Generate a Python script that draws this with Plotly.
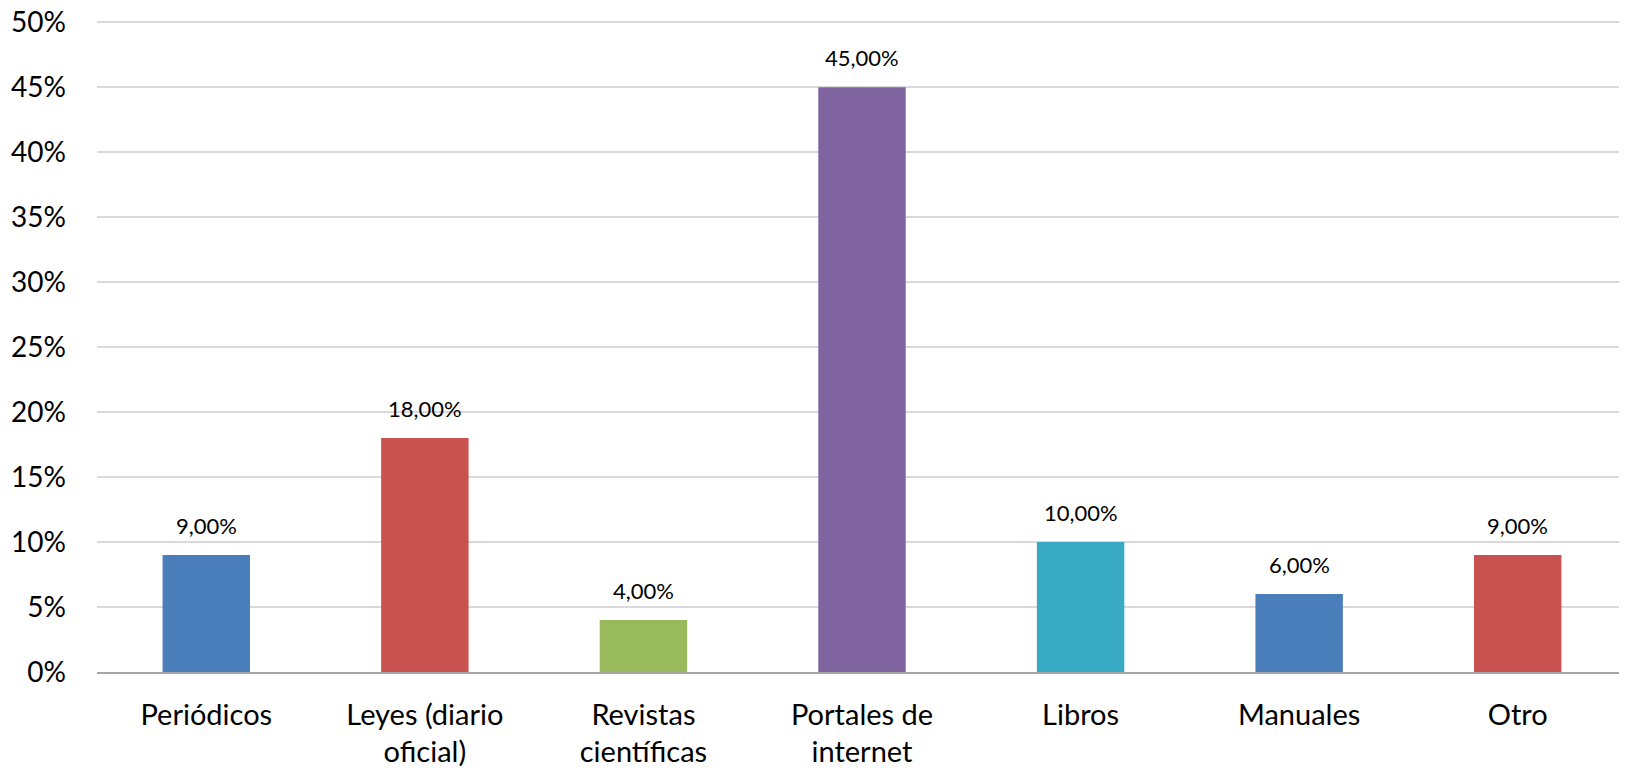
import plotly.graph_objects as go

categories = ["Periódicos", "Leyes (diario<br>oficial)", "Revistas<br>científicas",
              "Portales de<br>internet", "Libros", "Manuales", "Otro"]
values = [9, 18, 4, 45, 10, 6, 9]
colors = ["#4A7EBB", "#C9514F", "#98B95C", "#8064A0", "#38AAC4", "#4A7EBB", "#C9514F"]
tick_vals = [0, 5, 10, 15, 20, 25, 30, 35, 40, 45, 50]
tick_text = [f"{v}%" for v in tick_vals]

font_family = "Lato, 'Open Sans', sans-serif"

fig = go.Figure(go.Bar(
    x=categories, y=values, marker=dict(color=colors, line=dict(width=0)),
))

for c, v in zip(categories, values):
    fig.add_annotation(x=c, y=v, xref="x", yref="y", text=f"{v:.2f}%".replace(".", ","),
                       showarrow=False, yanchor="bottom", yshift=14,
                       font=dict(size=22, color="#000000", family=font_family))

fig.update_layout(
    width=1619, height=760, separators=",.",
    margin=dict(l=89, r=0, t=13, b=96),
    plot_bgcolor="white", paper_bgcolor="white",
    bargap=0.6, showlegend=False,
    font=dict(family=font_family, size=28, color="#000000"),
)
fig.update_yaxes(range=[0, 50.1], tickmode="array", tickvals=tick_vals, ticktext=tick_text,
                 showgrid=True, gridcolor="#D9D9D9", gridwidth=1.5, automargin=False,
                 zeroline=False, showline=False, ticklabelstandoff=30,
                 ticklabeloverflow="allow", tickfont=dict(size=28))
fig.update_xaxes(showline=True, linecolor="#A6A6A6", linewidth=1.5, automargin=False,
                 ticks="", ticklabelstandoff=16, ticklabeloverflow="allow",
                 tickfont=dict(size=29))

fig.write_html("out.html")
